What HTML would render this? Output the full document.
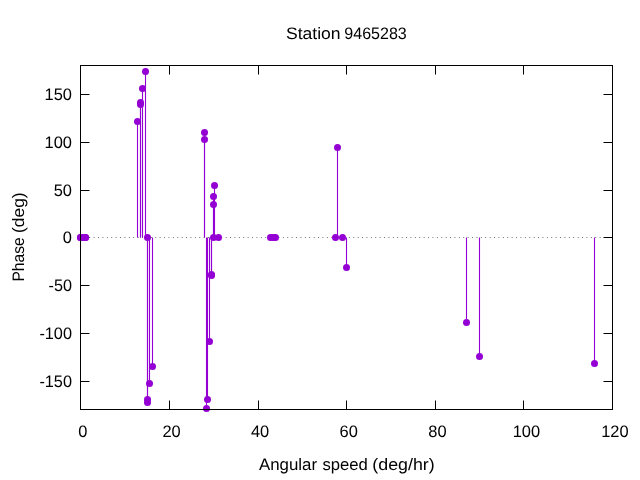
<!DOCTYPE html>
<html lang="en">
<head>
<meta charset="utf-8">
<title>Station 9465283</title>
<style>
html,body{margin:0;padding:0;background:#fff;}
body{width:640px;height:480px;overflow:hidden;}
svg{display:block;}
text{font-family:"Liberation Sans",sans-serif;font-size:16.6px;fill:#000;text-rendering:geometricPrecision;}
</style>
</head>
<body>
<svg width="640" height="480" viewBox="0 0 640 480">
<rect x="0" y="0" width="640" height="480" fill="#ffffff"/>
<g stroke="#000" stroke-width="1" fill="none">
<line x1="80.5" y1="381.5" x2="89.5" y2="381.5"/>
<line x1="612.5" y1="381.5" x2="603.5" y2="381.5"/>
<line x1="80.5" y1="333.5" x2="89.5" y2="333.5"/>
<line x1="612.5" y1="333.5" x2="603.5" y2="333.5"/>
<line x1="80.5" y1="285.5" x2="89.5" y2="285.5"/>
<line x1="612.5" y1="285.5" x2="603.5" y2="285.5"/>
<line x1="80.5" y1="237.5" x2="89.5" y2="237.5"/>
<line x1="612.5" y1="237.5" x2="603.5" y2="237.5"/>
<line x1="80.5" y1="190.5" x2="89.5" y2="190.5"/>
<line x1="612.5" y1="190.5" x2="603.5" y2="190.5"/>
<line x1="80.5" y1="142.5" x2="89.5" y2="142.5"/>
<line x1="612.5" y1="142.5" x2="603.5" y2="142.5"/>
<line x1="80.5" y1="94.5" x2="89.5" y2="94.5"/>
<line x1="612.5" y1="94.5" x2="603.5" y2="94.5"/>
<line x1="80.5" y1="409.5" x2="80.5" y2="400.5"/>
<line x1="80.5" y1="65.5" x2="80.5" y2="74.5"/>
<line x1="169.5" y1="409.5" x2="169.5" y2="400.5"/>
<line x1="169.5" y1="65.5" x2="169.5" y2="74.5"/>
<line x1="258.5" y1="409.5" x2="258.5" y2="400.5"/>
<line x1="258.5" y1="65.5" x2="258.5" y2="74.5"/>
<line x1="346.5" y1="409.5" x2="346.5" y2="400.5"/>
<line x1="346.5" y1="65.5" x2="346.5" y2="74.5"/>
<line x1="435.5" y1="409.5" x2="435.5" y2="400.5"/>
<line x1="435.5" y1="65.5" x2="435.5" y2="74.5"/>
<line x1="523.5" y1="409.5" x2="523.5" y2="400.5"/>
<line x1="523.5" y1="65.5" x2="523.5" y2="74.5"/>
<line x1="612.5" y1="409.5" x2="612.5" y2="400.5"/>
<line x1="612.5" y1="65.5" x2="612.5" y2="74.5"/>
</g>
<line x1="80.5" y1="237.5" x2="612.5" y2="237.5" stroke="#000" stroke-opacity="0.6" stroke-width="1" stroke-dasharray="0.9 3.5"/>
<g stroke="#9400d3" stroke-width="1.1" fill="none">
<line x1="137.5" y1="237.5" x2="137.5" y2="121.5"/>
<line x1="140.5" y1="237.5" x2="140.5" y2="102.5"/>
<line x1="140.5" y1="237.5" x2="140.5" y2="104.5"/>
<line x1="142.5" y1="237.5" x2="142.5" y2="88.5"/>
<line x1="145.5" y1="237.5" x2="145.5" y2="71.5"/>
<line x1="147.5" y1="237.5" x2="147.5" y2="399.5"/>
<line x1="147.5" y1="237.5" x2="147.5" y2="402.5"/>
<line x1="149.5" y1="237.5" x2="149.5" y2="383.5"/>
<line x1="152.5" y1="237.5" x2="152.5" y2="366.5"/>
<line x1="204.5" y1="237.5" x2="204.5" y2="132.5"/>
<line x1="204.5" y1="237.5" x2="204.5" y2="139.5"/>
<line x1="206.5" y1="237.5" x2="206.5" y2="408.5"/>
<line x1="207.5" y1="237.5" x2="207.5" y2="399.5"/>
<line x1="209.5" y1="237.5" x2="209.5" y2="341.5"/>
<line x1="211.5" y1="237.5" x2="211.5" y2="274.5"/>
<line x1="211.5" y1="237.5" x2="211.5" y2="275.5"/>
<line x1="213.5" y1="237.5" x2="213.5" y2="204.5"/>
<line x1="213.5" y1="237.5" x2="213.5" y2="196.5"/>
<line x1="214.5" y1="237.5" x2="214.5" y2="185.5"/>
<line x1="337.5" y1="237.5" x2="337.5" y2="147.5"/>
<line x1="346.5" y1="237.5" x2="346.5" y2="267.5"/>
<line x1="466.5" y1="237.5" x2="466.5" y2="322.5"/>
<line x1="479.5" y1="237.5" x2="479.5" y2="356.5"/>
<line x1="594.5" y1="237.5" x2="594.5" y2="363.5"/>
</g>
<g fill="#9400d3">
<circle cx="80.5" cy="237.5" r="3.5"/>
<circle cx="80.5" cy="237.5" r="3.5"/>
<circle cx="83.5" cy="237.5" r="3.5"/>
<circle cx="85.5" cy="237.5" r="3.5"/>
<circle cx="85.5" cy="237.5" r="3.5"/>
<circle cx="137.5" cy="121.5" r="3.5"/>
<circle cx="140.5" cy="102.5" r="3.5"/>
<circle cx="140.5" cy="104.5" r="3.5"/>
<circle cx="142.5" cy="88.5" r="3.5"/>
<circle cx="145.5" cy="71.5" r="3.5"/>
<circle cx="147.5" cy="237.5" r="3.5"/>
<circle cx="147.5" cy="399.5" r="3.5"/>
<circle cx="147.5" cy="402.5" r="3.5"/>
<circle cx="149.5" cy="383.5" r="3.5"/>
<circle cx="152.5" cy="366.5" r="3.5"/>
<circle cx="204.5" cy="132.5" r="3.5"/>
<circle cx="204.5" cy="139.5" r="3.5"/>
<circle cx="206.5" cy="408.5" r="3.5"/>
<circle cx="207.5" cy="399.5" r="3.5"/>
<circle cx="209.5" cy="341.5" r="3.5"/>
<circle cx="211.5" cy="274.5" r="3.5"/>
<circle cx="211.5" cy="275.5" r="3.5"/>
<circle cx="213.5" cy="204.5" r="3.5"/>
<circle cx="213.5" cy="196.5" r="3.5"/>
<circle cx="213.5" cy="237.5" r="3.5"/>
<circle cx="214.5" cy="185.5" r="3.5"/>
<circle cx="218.5" cy="237.5" r="3.5"/>
<circle cx="270.5" cy="237.5" r="3.5"/>
<circle cx="273.2" cy="237.5" r="3.5"/>
<circle cx="275.5" cy="237.5" r="3.5"/>
<circle cx="335.5" cy="237.5" r="3.5"/>
<circle cx="337.5" cy="147.5" r="3.5"/>
<circle cx="342.5" cy="237.5" r="3.5"/>
<circle cx="346.5" cy="267.5" r="3.5"/>
<circle cx="466.5" cy="322.5" r="3.5"/>
<circle cx="479.5" cy="356.5" r="3.5"/>
<circle cx="594.5" cy="363.5" r="3.5"/>
</g>
<g stroke="#000" stroke-width="1" fill="none">
<rect x="80.5" y="65.5" width="532.0" height="344.0"/>
</g>
<text x="72" y="387.45" text-anchor="end" textLength="32.6" lengthAdjust="spacingAndGlyphs">-150</text>
<text x="72" y="339.45" text-anchor="end" textLength="32.6" lengthAdjust="spacingAndGlyphs">-100</text>
<text x="72" y="291.45" text-anchor="end" textLength="23.45" lengthAdjust="spacingAndGlyphs">-50</text>
<text x="72" y="243.45" text-anchor="end" textLength="9.15" lengthAdjust="spacingAndGlyphs">0</text>
<text x="72" y="196.45" text-anchor="end" textLength="18.3" lengthAdjust="spacingAndGlyphs">50</text>
<text x="72" y="148.45" text-anchor="end" textLength="27.45" lengthAdjust="spacingAndGlyphs">100</text>
<text x="72" y="100.45" text-anchor="end" textLength="27.45" lengthAdjust="spacingAndGlyphs">150</text>
<text x="82.9" y="437.45" text-anchor="middle" textLength="9.15" lengthAdjust="spacingAndGlyphs">0</text>
<text x="171.55" y="437.45" text-anchor="middle" textLength="18.3" lengthAdjust="spacingAndGlyphs">20</text>
<text x="260.1" y="437.45" text-anchor="middle" textLength="18.3" lengthAdjust="spacingAndGlyphs">40</text>
<text x="348.75" y="437.45" text-anchor="middle" textLength="18.3" lengthAdjust="spacingAndGlyphs">60</text>
<text x="437.4" y="437.45" text-anchor="middle" textLength="18.3" lengthAdjust="spacingAndGlyphs">80</text>
<text x="526.35" y="437.45" text-anchor="middle" textLength="27.45" lengthAdjust="spacingAndGlyphs">100</text>
<text x="614.9" y="437.45" text-anchor="middle" textLength="27.45" lengthAdjust="spacingAndGlyphs">120</text>
<text y="38.7"><tspan x="286.0" textLength="59.5" lengthAdjust="spacingAndGlyphs">Station </tspan><tspan x="344.3" textLength="62.5" lengthAdjust="spacingAndGlyphs">9465283</tspan></text>
<text y="470"><tspan x="259.0" textLength="62.8" lengthAdjust="spacingAndGlyphs">Angular </tspan><tspan x="322.5" textLength="50.0" lengthAdjust="spacingAndGlyphs">speed </tspan><tspan x="372.3" textLength="62.4" lengthAdjust="spacingAndGlyphs">(deg/hr)</tspan></text>
<text transform="translate(24.4,0) rotate(-90)" y="0"><tspan x="-281.6" textLength="48.6" lengthAdjust="spacingAndGlyphs">Phase </tspan><tspan x="-233.0" textLength="40.6" lengthAdjust="spacingAndGlyphs">(deg)</tspan></text>
</svg>
</body>
</html>
